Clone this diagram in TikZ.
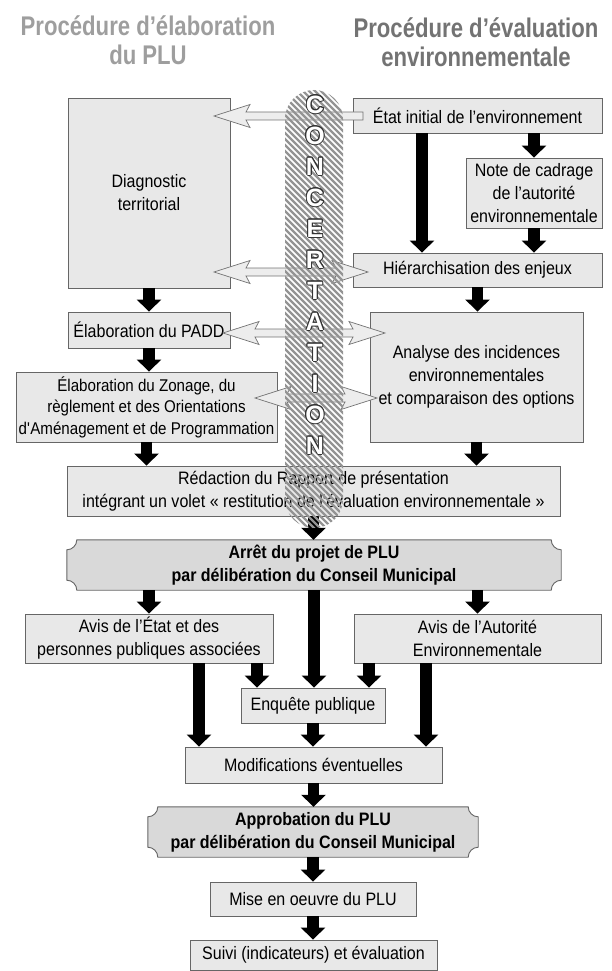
\documentclass[tikz,border=0pt]{standalone}
\usepackage{fontspec}
\setmainfont{Liberation Sans}[FakeStretch=0.89]
\newfontfamily\titlefont{Liberation Sans}[FakeStretch=0.82]
\newfontfamily\letterfont{Liberation Sans}
\usepackage{contour}
\contourlength{0.9pt}
\usetikzlibrary{arrows.meta, calc, backgrounds}

\tikzset{
    box/.style={draw=black!60, fill=black!9, line width=0.9pt, align=center, inner sep=0pt,
        font=\fontsize{18pt}{23pt}\selectfont},
    dims/.style 2 args={minimum width=#1pt, minimum height=#2pt},
    plaquebox/.style={align=center, inner sep=0pt, font=\fontsize{18pt}{23pt}\selectfont\bfseries},
    flow/.style={line width=11.5pt, -{Triangle[width=24pt, length=12pt]}},
    fatarr/.style={draw=black!55, fill=black!7, line width=0.7pt},
    heading/.style={align=center, font=\fontsize{27pt}{29pt}\selectfont\titlefont\bfseries},
    letter/.style={text=white, font=\fontsize{25pt}{25pt}\selectfont\letterfont\bfseries},
}

% plaque outline with hollow corners, behind a node
\newcommand\drawplaque[1]{%
    \begin{pgfonlayer}{background}
        \path[draw=black!60, fill=black!15, line width=0.9pt]
            let \p1=(#1.north west), \p2=(#1.south east) in
            (\x1,\y1-10pt) .. controls (\x1+5.5pt,\y1-10pt) and (\x1+10pt,\y1-5.5pt) .. (\x1+10pt,\y1)
            -- (\x2-10pt,\y1) .. controls (\x2-10pt,\y1-5.5pt) and (\x2-5.5pt,\y1-10pt) .. (\x2,\y1-10pt)
            -- (\x2,\y2+10pt) .. controls (\x2-5.5pt,\y2+10pt) and (\x2-10pt,\y2+5.5pt) .. (\x2-10pt,\y2)
            -- (\x1+10pt,\y2) .. controls (\x1+10pt,\y2+5.5pt) and (\x1+5.5pt,\y2+10pt) .. (\x1,\y2+10pt)
            -- cycle;
    \end{pgfonlayer}}

% wide grey arrow, tail #1 on the right, head #2 on the left
\newcommand\fatarrow[2]{%
    \draw[fatarr] let \p1=#1, \p2=#2 in
        (\x1,\y1+4pt) -- (\x2+32pt,\y1+4pt) -- (\x2+36pt,\y1+11.5pt) -- (\x2,\y1)
        -- (\x2+36pt,\y1-11.5pt) -- (\x2+32pt,\y1-4pt) -- (\x1,\y1-4pt) -- cycle;}

% wide grey arrow, heads at both ends (#1 left, #2 right)
\newcommand\fatdarrow[2]{%
    \draw[fatarr] let \p1=#1, \p2=#2 in
        (\x1,\y1) -- (\x1+36pt,\y1+11.5pt) -- (\x1+32pt,\y1+4pt) -- (\x2-32pt,\y1+4pt)
        -- (\x2-36pt,\y1+11.5pt) -- (\x2,\y1) -- (\x2-36pt,\y1-11.5pt) -- (\x2-32pt,\y1-4pt)
        -- (\x1+32pt,\y1-4pt) -- (\x1+36pt,\y1-11.5pt) -- cycle;}

\begin{document}
\begin{tikzpicture}[x=1pt, y=-1pt]
    \useasboundingbox (0,0) rectangle (612,971);

    % Headings
    \node[heading, text=black!38] (tplu) at (148,40) {Procédure d’élaboration\\du PLU};
    \node[heading, text=black!55] (tenv) at (476,42) {Procédure d’évaluation\\environnementale};

    % Upper part
    \node[box, dims={162}{190}] (diag) at (149,193) {Diagnostic\\territorial};
    \node[box, dims={249}{35}] (etat) at (477.5,115.5) {État initial de l’environnement};
    \node[box, dims={136}{70}] (note) at (534,193) {Note de cadrage\\de l’autorité\\environnementale};
    \node[box, dims={249}{34}] (hier) at (477.5,270) {Hiérarchisation des enjeux};
    \node[box, dims={162}{36}] (padd) at (149,330) {Élaboration du PADD};
    \node[box, dims={261}{70}, font=\fontsize{17pt}{21.5pt}\selectfont] (zonage) at (146.5,407)
        {Élaboration du Zonage, du\\règlement et des Orientations\\d\textquotesingle Aménagement et de Programmation};
    \node[box, dims={213}{130}] (analyse) at (476.5,377)
        {Analyse des incidences\\environnementales\\et comparaison des options};
    \node[box, dims={493}{50}] (redac) at (313.5,491)
        {Rédaction du Rapport de présentation\\intégrant un volet « restitution de l\textquotesingle évaluation environnementale »};

    % Lower part
    \node[plaquebox, dims={494}{50}] (arret) at (314,565) {Arrêt du projet de PLU\\par délibération du Conseil Municipal};
    \drawplaque{arret}
    \node[box, dims={248}{49}] (avisetat) at (149,638.5) {Avis de l’État et des\\personnes publiques associées};
    \node[box, dims={247}{49}] (avisae) at (477.5,638.5) {Avis de l’Autorité\\Environnementale};
    \node[box, dims={144}{35}] (enquete) at (313,705.5) {Enquête publique};
    \node[box, dims={257}{36}] (modif) at (313.5,765) {Modifications éventuelles};
    \node[plaquebox, dims={330}{50}] (approb) at (313,832) {Approbation du PLU\\par délibération du Conseil Municipal};
    \drawplaque{approb}
    \node[box, dims={206}{34}] (mise) at (313,899) {Mise en oeuvre du PLU};
    \node[box, dims={247}{30}] (suivi) at (313.5,955) {Suivi (indicateurs) et évaluation};

    % Black arrows
    \draw[flow] ([xshift=-55.5pt]etat.south) -- ([xshift=-55.5pt]hier.north);
    \draw[flow] (etat.south -| note.north) -- (note.north);
    \draw[flow] (note.south) -- (hier.north -| note.south);
    \draw[flow] (hier.south) -- (hier.south |- analyse.north);
    \draw[flow] (diag.south) -- (padd.north);
    \draw[flow] (padd.south) -- (padd.south |- zonage.north);
    \draw[flow] (zonage.south) -- (zonage.south |- redac.north);
    \draw[flow] (analyse.south) -- (analyse.south |- redac.north);
    \draw[flow] (redac.south) -- (redac.south |- arret.north);
    \draw[flow] (avisetat.north |- arret.south) -- (avisetat.north);
    \draw[flow] (avisae.north |- arret.south) -- (avisae.north);
    \draw[flow] (arret.south) -- (arret.south |- enquete.north);
    \draw[flow] ([xshift=108pt]avisetat.south) -- ([xshift=108pt]avisetat.south |- enquete.north);
    \draw[flow] ([xshift=50pt]avisetat.south) -- ([xshift=50pt]avisetat.south |- modif.north);
    \draw[flow] ([xshift=-108.5pt]avisae.south) -- ([xshift=-108.5pt]avisae.south |- enquete.north);
    \draw[flow] ([xshift=-51.5pt]avisae.south) -- ([xshift=-51.5pt]avisae.south |- modif.north);
    \draw[flow] (enquete.south) -- (enquete.south |- modif.north);
    \draw[flow] (modif.south) -- (modif.south |- approb.north);
    \draw[flow] (approb.south) -- (approb.south |- mise.north);
    \draw[flow] (mise.south) -- (mise.south |- suivi.north);

    % Grey arrows across the concertation
    \coordinate (cetat) at (363,116);
    \coordinate (cdiag) at (214,116);
    \coordinate (cdiag2) at (214,272);
    \coordinate (chier) at (368,272);
    \coordinate (cpadd) at (223,333);
    \coordinate (cana1) at (385,333);
    \coordinate (czon) at (255,398);
    \coordinate (cana2) at (377,398);
    \fatarrow{(cetat)}{(cdiag)}
    \fatdarrow{(cdiag2)}{(chier)}
    \fatdarrow{(cpadd)}{(cana1)}
    \fatdarrow{(czon)}{(cana2)}

    % Concertation band
    \begin{scope}
        \clip[rounded corners=29pt] (285,90) rectangle (343,528);
        \foreach \k in {20,26,...,530} {
            \draw[black!42, line width=2.3pt] (280,\k) -- ++(70,70);
        }
    \end{scope}
    \foreach \l [count=\i] in {C,O,N,C,E,R,T,A,T,I,O,N} {
        \node[letter] (l\i) at (315,74+31*\i) {\contour{black!80}{\l}};
    }
\end{tikzpicture}
\end{document}
